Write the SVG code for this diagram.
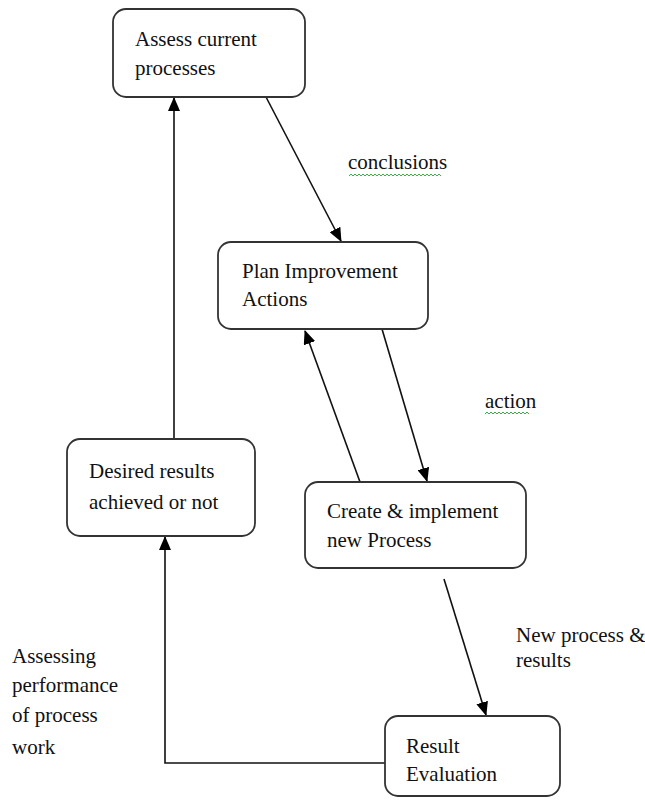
<svg xmlns="http://www.w3.org/2000/svg" width="645" height="804" viewBox="0 0 645 804">
<style>
.box{fill:#fff;stroke:#333;stroke-width:1.8}
text{font-family:'Liberation Serif','Times New Roman','DejaVu Serif',serif;font-size:21px;fill:#111}
.c{fill:none;stroke:#111;stroke-width:1.6}
.sq{fill:none;stroke:#3cb043;stroke-width:1}
</style>
<defs>
<marker id="ah" markerWidth="14" markerHeight="12" refX="13" refY="6" orient="auto" markerUnits="userSpaceOnUse">
<path d="M0,0 L14,6 L0,12 Z" fill="#000"/>
</marker>
</defs>
<rect width="645" height="804" fill="#fff"/>
<g id="connectors">
<line class="c" x1="266" y1="97" x2="341" y2="241" marker-end="url(#ah)"/>
<line class="c" x1="382" y1="329" x2="427" y2="481" marker-end="url(#ah)"/>
<line class="c" x1="360" y1="482" x2="305" y2="331" marker-end="url(#ah)"/>
<line class="c" x1="444" y1="579" x2="486" y2="715" marker-end="url(#ah)"/>
<polyline class="c" points="385,763 165,763 165,537" marker-end="url(#ah)"/>
<line class="c" x1="174" y1="439" x2="174" y2="98" marker-end="url(#ah)"/>
</g>
<g id="n1">
<rect class="box" x="113" y="9" width="192" height="88" rx="13"/>
<text x="135" y="46">Assess current</text>
<text x="135" y="75">processes</text>
</g>
<g id="n2">
<rect class="box" x="218" y="242" width="210" height="87" rx="13"/>
<text x="242" y="278">Plan Improvement</text>
<text x="242" y="306">Actions</text>
</g>
<g id="n3">
<rect class="box" x="67" y="439" width="188" height="97" rx="13"/>
<text x="89" y="478">Desired results</text>
<text x="89" y="509">achieved or not</text>
</g>
<g id="n4">
<rect class="box" x="305" y="482" width="221" height="86" rx="13"/>
<text x="327" y="518">Create &amp; implement</text>
<text x="327" y="547">new Process</text>
</g>
<g id="n5">
<rect class="box" x="385" y="716" width="175" height="80" rx="13"/>
<text x="406" y="753">Result</text>
<text x="406" y="781">Evaluation</text>
</g>
<g id="labels">
<text x="348" y="169">conclusions</text>
<path class="sq" d="M349,176 l2,-2 l2,2 l2,-2 l2,2 l2,-2 l2,2 l2,-2 l2,2 l2,-2 l2,2 l2,-2 l2,2 l2,-2 l2,2 l2,-2 l2,2 l2,-2 l2,2 l2,-2 l2,2 l2,-2 l2,2 l2,-2 l2,2 l2,-2 l2,2 l2,-2 l2,2 l2,-2 l2,2 l2,-2 l2,2 l2,-2 l2,2 l2,-2 l2,2 l2,-2 l2,2 l2,-2 l2,2 l2,-2 l2,2 l2,-2 l2,2 l2,-2 l2,2"/>
<text x="485" y="408">action</text>
<path class="sq" d="M485,414 l2,-2 l2,2 l2,-2 l2,2 l2,-2 l2,2 l2,-2 l2,2 l2,-2 l2,2 l2,-2 l2,2 l2,-2 l2,2 l2,-2 l2,2 l2,-2 l2,2 l2,-2 l2,2 l2,-2 l2,2"/>
<text x="516" y="642" font-size="19">New process &amp;</text>
<text x="516" y="667" font-size="19">results</text>
<text x="12" y="663">Assessing</text>
<text x="12" y="692">performance</text>
<text x="12" y="722">of process</text>
<text x="12" y="754">work</text>
</g>
</svg>
